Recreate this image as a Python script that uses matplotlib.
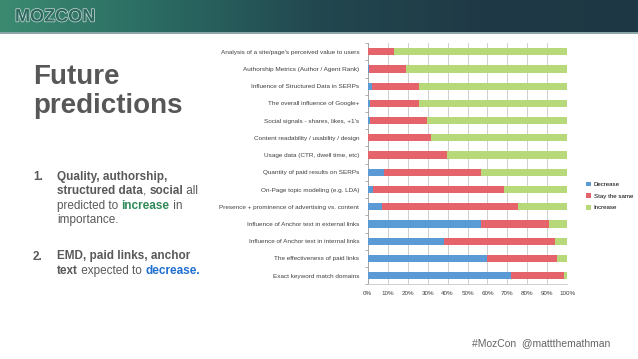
import numpy as np
import matplotlib
matplotlib.use("Agg")
import matplotlib.pyplot as plt
from matplotlib import patheffects as pe
from matplotlib.colors import LinearSegmentedColormap

plt.rcParams['font.family'] = ['Liberation Sans', 'DejaVu Sans']

categories = [
    "Analysis of a site/page's perceived value to users",
    "Authorship Metrics (Author / Agent Rank)",
    "Influence of Structured Data in SERPs",
    "The overall influence of Google+",
    "Social signals - shares, likes, +1's",
    "Content readability / usability / design",
    "Usage data (CTR, dwell time, etc)",
    "Quantity of paid results on SERPs",
    "On-Page topic modeling (e.g. LDA)",
    "Presence + prominence of advertising vs. content",
    "Influence of Anchor text in external links",
    "Influence of Anchor text in internal links",
    "The effectiveness of paid links",
    "Exact keyword match domains",
]
decrease = [0.0, 0.8, 2.0, 1.2, 1.2, 0.4, 0.4, 8.3, 2.8, 7.2, 56.8, 38.2, 59.6, 71.8]
stay_same = [13.3, 18.6, 23.7, 24.5, 28.3, 31.3, 39.3, 48.3, 65.5, 67.9, 34.2, 55.6, 35.1, 26.4]
increase = [100 - d - s for d, s in zip(decrease, stay_same)]
series_names = ["Decrease", "Stay the same", "Increase"]
colors = ["#5b9bd5", "#e5636a", "#b7d97a"]
xticks = list(range(0, 101, 10))
xtick_labels = [f"{t}%" for t in xticks]

W, H = 638, 359
fig = plt.figure(figsize=(W / 100, H / 100), dpi=100)
fig.patch.set_facecolor("white")

# header band
hdr = fig.add_axes([0, 1 - 32 / H, 1, 32 / H])
grad = np.linspace(0, 1, 256)[None, :]
cm = LinearSegmentedColormap.from_list("h", ["#3b8a70", "#2a6a62", "#22474f", "#1f3a46", "#1e3744"])
hdr.imshow(grad, aspect="auto", cmap=cm, extent=[0, 1, 0, 1])
hdr.set_axis_off()
line_ax = fig.add_axes([0, 1 - 34 / H, 1, 2 / H])
line_ax.set_facecolor("#8aa6a6")
line_ax.set_xticks([]); line_ax.set_yticks([])
for s in line_ax.spines.values():
    s.set_visible(False)
fig.text(15 / W, 1 - 17 / H, "MOZCON", fontsize=13, color="#2c6a60", va="center", ha="left",
         fontweight="bold",
         path_effects=[pe.withStroke(linewidth=1.0, foreground="#d0dad8")])

# title
fig.text(33 / W, 1 - 84 / H, "Future", fontsize=20, fontweight="bold", color="#575757", va="baseline")
fig.text(33 / W, 1 - 113 / H, "predictions", fontsize=20, fontweight="bold", color="#575757", va="baseline")

renderer = fig.canvas.get_renderer()

def rich_line(x_px, y_px, segments, size=8.5):
    x = x_px
    for txt, weight, col in segments:
        t = fig.text(x / W, 1 - y_px / H, txt, fontsize=size, fontweight=weight, color=col, va="baseline")
        bb = t.get_window_extent(renderer=renderer)
        x += bb.width

gray = "#595959"
green = "#2f8a5a"
blue = "#1f6fd0"
fig.text(33 / W, 1 - 180 / H, "1.", fontsize=8.5, fontweight="bold", color=gray, va="baseline")
rich_line(57, 180, [("Quality, authorship,", "bold", gray)])
rich_line(57, 194.5, [("structured data", "bold", gray), (", ", "normal", gray), ("social", "bold", gray), (" all", "normal", gray)])
rich_line(57, 209, [("predicted to ", "normal", gray), ("increase", "bold", green), (" in", "normal", gray)])
rich_line(57, 223.5, [("importance.", "normal", gray)])
fig.text(33 / W, 1 - 259.5 / H, "2.", fontsize=8.5, fontweight="bold", color=gray, va="baseline")
rich_line(57, 259.5, [("EMD, paid links, anchor", "bold", gray)])
rich_line(57, 274, [("text", "bold", gray), (" expected to ", "normal", gray), ("decrease.", "bold", blue)])

# chart
left, right = 367.7, 567.3
top, bottom = 43.1, 284.3
ax = fig.add_axes([left / W, 1 - bottom / H, (right - left) / W, (bottom - top) / H])
y = np.arange(len(categories))
lefts = np.zeros(len(categories))
for vals, name, c in zip([decrease, stay_same, increase], series_names, colors):
    ax.barh(y, vals, left=lefts, height=0.42, color=c, label=name, zorder=3)
    lefts += np.array(vals)
ax.set_xlim(0, 100)
ax.set_ylim(len(categories) - 0.5, -0.5)
ax.set_xticks(xticks)
ax.set_xticklabels(xtick_labels, fontsize=4.5, color="#404040")
ax.set_yticks(y)
ax.set_yticklabels(categories, fontsize=4.6, color="#404040")
ax.tick_params(axis="y", length=0, pad=6)
ax.tick_params(axis="x", length=0, pad=5)
ax.set_yticks(np.arange(-0.5, len(categories), 1), minor=True)
ax.tick_params(axis="y", which="minor", length=2.5, color="#a0a0a0", width=0.6)
ax.grid(axis="x", color="#c8c8c8", linewidth=0.6, zorder=0)
for s in ["top", "right"]:
    ax.spines[s].set_visible(False)
ax.spines["left"].set_color("#a0a0a0")
ax.spines["left"].set_linewidth(0.6)
ax.spines["bottom"].set_color("#c8c8c8")
ax.spines["bottom"].set_linewidth(0.6)

fig.legend(loc="center left", bbox_to_anchor=(584 / W, 1 - 196 / H), fontsize=4.4,
           frameon=False, handlelength=0.8, handleheight=0.8, handletextpad=0.4,
           labelspacing=1.0, borderaxespad=0)

fig.text(610 / W, 1 - 343 / H, "#MozCon  @mattthemathman", fontsize=7.5, color="#666666",
         ha="right", va="center")

fig.savefig("out.png", dpi=100, facecolor="white")
